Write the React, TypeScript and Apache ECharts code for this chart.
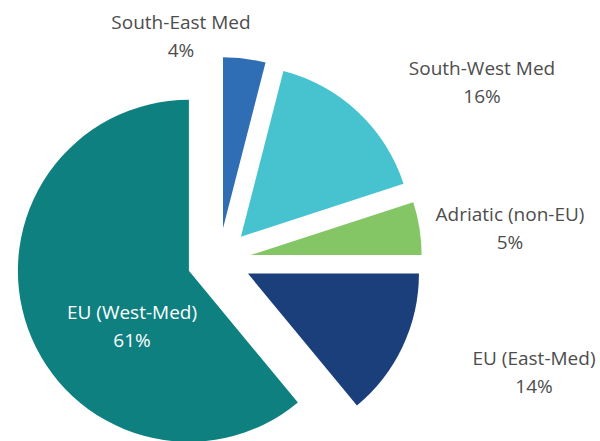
import React, { useEffect, useRef } from "react";
import * as echarts from "echarts";

const categories = [
  "South-East Med",
  "South-West Med",
  "Adriatic (non-EU)",
  "EU (East-Med)",
  "EU (West-Med)",
];
const values = [4, 16, 5, 14, 61];
const colors = ["#2F6DB5", "#46C3CF", "#84C665", "#1B3F7B", "#0E8080"];

// label block centres (pixels)
const labelX = [181, 482, 510, 534, 132];
const labelY = [36, 82, 228, 372, 326];

export default function App() {
  const ref = useRef<HTMLDivElement>(null);
  useEffect(() => {
    if (!ref.current) return;
    const chart = echarts.init(ref.current, null, { renderer: "svg" });
    const common = {
      type: "pie",
      center: [219, 260],
      radius: 171,
      startAngle: 90,
      clockwise: true,
      emphasis: { disabled: true },
      labelLine: { show: false },
    };
    chart.setOption({
      animation: false,
      series: [
        {
          ...common,
          selectedMode: "multiple",
          selectedOffset: 32,
          label: { show: false },
          data: categories.map((name, i) => ({
            name,
            value: values[i],
            selected: true,
            itemStyle: { color: colors[i] },
            select: { itemStyle: { color: colors[i] } },
          })),
        },
        {
          ...common,
          silent: true,
          selectedMode: false,
          z: 5,
          itemStyle: { color: "rgba(0,0,0,0)" },
          label: {
            show: true,
            position: "outside",
            formatter: (p: any) => `${p.name}\n${p.value}%`,
            fontFamily: "Open Sans",
            fontSize: 19,
            lineHeight: 28,
            color: "#4d4d4d",
            align: "center",
          },
          labelLayout: (p: any) => ({
            x: labelX[p.dataIndex],
            y: labelY[p.dataIndex],
            align: "center",
            verticalAlign: "middle",
          }),
          data: categories.map((name, i) => ({
            name,
            value: values[i],
            label: i === 4 ? { color: "#ffffff", position: "inside" } : undefined,
          })),
        },
      ],
    });
    return () => chart.dispose();
  }, []);
  return (
    <div
      ref={ref}
      style={{ position: "fixed", left: 0, top: 0, width: 600, height: 441, background: "#fff" }}
    />
  );
}
